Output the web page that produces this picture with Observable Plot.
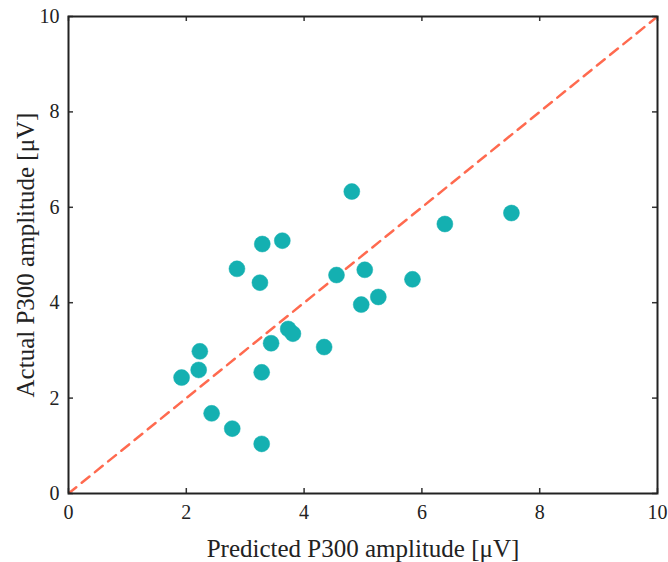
<!DOCTYPE html>
<html>
<head>
<meta charset="utf-8">
<script src="https://cdn.jsdelivr.net/npm/d3@7"></script>
<script src="https://cdn.jsdelivr.net/npm/@observablehq/plot@0.6"></script>
<style>
  html, body { margin: 0; padding: 0; background: #fff; }
</style>
</head>
<body>
<div id="chart"></div>
<script>
const predicted = [1.92, 2.21, 2.23, 2.43, 2.78, 2.86, 3.25, 3.29, 3.28, 3.28, 3.44, 3.63, 3.73, 3.81, 4.34, 4.55, 4.81, 4.97, 5.03, 5.26, 5.84, 6.39, 7.52];
const actual    = [2.43, 2.59, 2.98, 1.68, 1.36, 4.71, 4.42, 5.23, 2.54, 1.04, 3.15, 5.30, 3.45, 3.35, 3.07, 4.58, 6.33, 3.96, 4.69, 4.12, 4.49, 5.65, 5.88];
const identityX = [0, 10];
const identityY = [0, 10];
const tickValues = [0, 2, 4, 6, 8, 10];
const xLabel = "Predicted P300 amplitude [μV]";
const yLabel = "Actual P300 amplitude [μV]";

const points = predicted.map((p, i) => ({p, a: actual[i]}));
const diag = identityX.map((x, i) => ({x, y: identityY[i]}));

const W = 668, H = 562;
const mL = 68, mR = 11, mT = 16, mB = 69;
const innerW = W - mL - mR, innerH = H - mT - mB;
const tickLen = 5;

const chart = Plot.plot({
  width: W,
  height: H,
  marginLeft: mL,
  marginRight: mR,
  marginTop: mT,
  marginBottom: mB,
  style: {fontFamily: "'Liberation Serif', 'Times New Roman', serif", fontSize: "20px", background: "#fff", color: "#222"},
  x: {domain: [0, 10], ticks: tickValues},
  y: {domain: [0, 10], ticks: tickValues},
  marks: [
    Plot.line(diag, {x: "x", y: "y", stroke: "#ff6a4f", strokeWidth: 2.5, strokeDasharray: "10,7", clip: true}),
    Plot.dot(points, {x: "p", y: "a", r: 8, fill: "#14b0b1", stroke: "#14b0b1", strokeWidth: 0.5}),
    // inward ticks on all four sides
    Plot.tickX(tickValues, {x: d => d, insetTop: innerH - tickLen, stroke: "#333", strokeWidth: 1.5}),
    Plot.tickX(tickValues, {x: d => d, insetBottom: innerH - tickLen, stroke: "#333", strokeWidth: 1.5}),
    Plot.tickY(tickValues, {y: d => d, insetRight: innerW - tickLen, stroke: "#333", strokeWidth: 1.5}),
    Plot.tickY(tickValues, {y: d => d, insetLeft: innerW - tickLen, stroke: "#333", strokeWidth: 1.5}),
    Plot.axisX(tickValues, {anchor: "bottom", tickSize: 0, tickPadding: 11, fontSize: 20, label: null}),
    Plot.axisY(tickValues, {anchor: "left", tickSize: 0, tickPadding: 9, fontSize: 20, label: null}),
    Plot.text([xLabel], {text: d => d, frameAnchor: "bottom", dy: 55, fontSize: 25, lineAnchor: "middle", textAnchor: "middle"}),
    Plot.text([yLabel], {text: d => d, frameAnchor: "left", dx: -43, rotate: -90, fontSize: 25, lineAnchor: "middle", textAnchor: "middle"}),
    Plot.frame({stroke: "#222", strokeWidth: 2})
  ]
});

document.getElementById("chart").appendChild(chart);
</script>
</body>
</html>
